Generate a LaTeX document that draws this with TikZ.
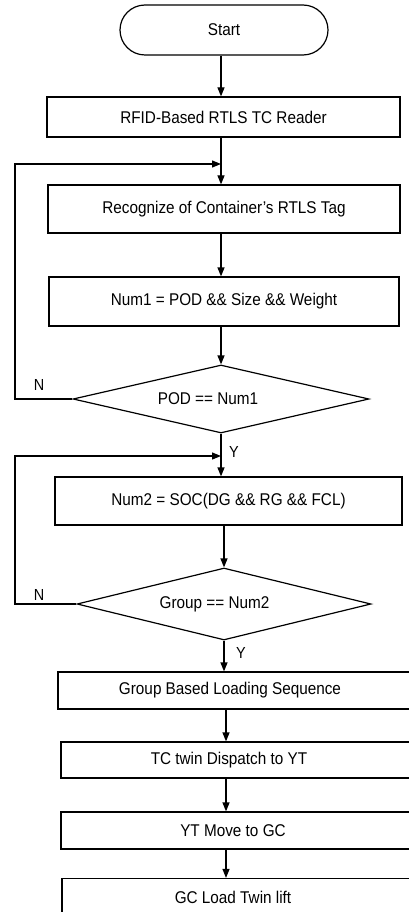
\documentclass[tikz,border=0pt]{standalone}
\usepackage{fontspec}
\setmainfont{Liberation Sans}[FakeStretch=0.9]
\usetikzlibrary{shapes.geometric,arrows.meta,calc}
\begin{document}
\begin{tikzpicture}[x=1pt,y=-1pt, line width=1.2pt,
  every node/.style={font=\fontsize{17}{20}\selectfont},
  box/.style={draw, rectangle, inner sep=0pt},
  term/.style={draw, rectangle, rounded corners=25pt, inner sep=0pt, minimum width=208pt, minimum height=50pt},
  dec/.style={draw, diamond, aspect=4.3, inner sep=0pt},
  arr/.style={-{Triangle[length=9pt,width=7pt]}},
  lab/.style={font=\fontsize{16}{19}\selectfont}]
\useasboundingbox (0,0) rectangle (409,912);
\node[term] (start) at (224,30) {Start};
\node[box, minimum width=353pt, minimum height=40pt] (b1) at (223.5,117) {RFID-Based RTLS TC Reader};
\node[box, minimum width=352pt, minimum height=48pt] (b2) at (224,209) {Recognize of Container's RTLS Tag};
\node[box, minimum width=350pt, minimum height=49pt] (b3) at (224,301.5) {Num1 = POD \&\& Size \&\& Weight};
\node[dec, minimum width=296pt, minimum height=68pt] (d1) at (221,399) {\hspace*{-26pt}POD == Num1};
\node[box, minimum width=347pt, minimum height=48pt] (b4) at (228.5,501) {Num2 = SOC(DG \&\& RG \&\& FCL)};
\node[dec, minimum width=294pt, minimum height=72pt] (d2) at (224,604) {\hspace*{-19pt}Group == Num2};
\node[box, minimum width=362pt, minimum height=37pt] (b5) at (239,690.5) {\hspace*{-18pt}Group Based Loading Sequence};
\node[box, minimum width=359pt, minimum height=36pt] (b6) at (240.5,760) {\hspace*{-23pt}TC twin Dispatch to YT};
\node[box, minimum width=359pt, minimum height=37pt] (b7) at (240.5,830.5) {\hspace*{-15pt}YT Move to GC};
\node[box, minimum width=358pt, minimum height=37pt] (b8) at (241,897) {\hspace*{-16pt}GC Load Twin lift};
\coordinate (j1) at (221,164);
\coordinate (j2) at (221,456);
\coordinate (l1) at (15,0);
\coordinate (j3) at (226,0);
\draw[arr] (start.south -| j1) -- (b1.north -| j1);
\draw (b1.south -| j1) -- (j1);
\draw[arr] (j1) -- (b2.north -| j1);
\draw[arr] (b2.south -| j1) -- (b3.north -| j1);
\draw[arr] (b3.south -| j1) -- (d1.north);
\draw[arr] (d1.west) -- (d1.west -| l1) -- (j1 -| l1) -- (j1);
\draw (d1.south) -- (j2);
\draw[arr] (j2) -- (j2 |- b4.north);
\draw[arr] (d2.west) -- (d2.west -| l1) -- (j2 -| l1) -- (j2);
\draw[arr] (b4.south -| d2.north) -- (d2.north);
\draw[arr] (d2.south) -- (d2.south |- b5.north);
\draw[arr] (b5.south -| j3) -- (b6.north -| j3);
\draw[arr] (b6.south -| j3) -- (b7.north -| j3);
\draw[arr] (b7.south -| j3) -- (b8.north -| j3);
\node[lab] (n1) at (39,385) {N};
\node[lab] (y1) at (234,452) {Y};
\node[lab] (n2) at (39,595) {N};
\node[lab] (y2) at (241,653) {Y};
\end{tikzpicture}
\end{document}
